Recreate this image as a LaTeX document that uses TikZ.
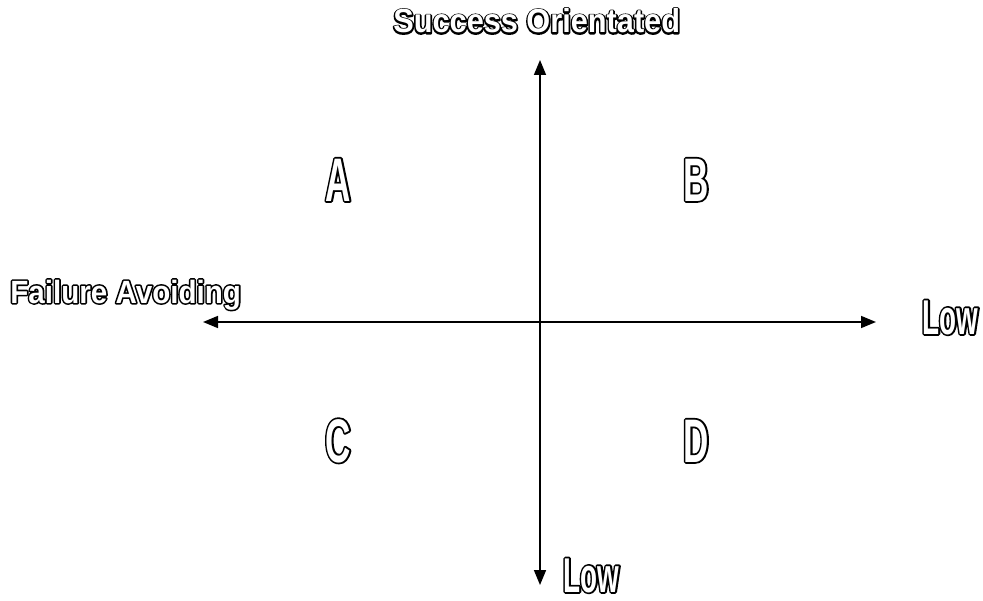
\documentclass[tikz,border=0pt]{standalone}
\usepackage{fontspec}
\usepackage{tikz}
\usetikzlibrary{arrows.meta, calc, positioning}
\newfontfamily\lblfont[FakeStretch=0.92]{Liberation Sans}
\newfontfamily\tagfont[FakeStretch=0.57]{Liberation Sans}
% hollow letters: thick black stroke under, white fill on top
\newcommand{\hollow}[2][1.8]{\rlap{\special{pdf:literal direct 1 Tr #1 w 1 j 0 G}#2\special{pdf:literal direct 0 Tr}}\textcolor{white}{#2}}

\begin{document}
\begin{tikzpicture}[x=0.02cm, y=-0.02cm,
				ax/.style={-{Triangle[length=0.3cm, width=0.24cm]}, black, line width=0.9pt},
				lbl/.style={anchor=base west, inner sep=0pt, font=\lblfont\bfseries},
				tag/.style={anchor=base west, inner sep=0pt, font=\tagfont\bfseries}]
				
				\useasboundingbox (0,0) rectangle (983,601);
				
				%--- axes ---
				\coordinate (o) at (540,322);
				\coordinate (lft) at (203,322);
				\coordinate (rgt) at (876,322);
				\coordinate (top) at (540,60);
				\coordinate (bot) at (540,585);
				\draw[ax](o)--(lft);
				\draw[ax](o)--(rgt);
				\draw[ax](o)--(top);
				\draw[ax](o)--(bot);
				
				%--- axis labels ---
				\node[lbl, font=\lblfont\bfseries\fontsize{19}{19}\selectfont] (succ) at (393,33) {\hollow{Success Orientated}};
				\node[lbl, font=\lblfont\bfseries\fontsize{18.3}{18}\selectfont] (fail) at (10,303) {\hollow{Failure Avoiding}};
				\node[tag, font=\tagfont\bfseries\fontsize{27.8}{28}\selectfont] (lowr) at (922,334) {\hollow[2]{Low}};
				\node[tag, font=\tagfont\bfseries\fontsize{27.8}{28}\selectfont] (lowb) at (563,592) {\hollow[2]{Low}};
				
				%--- quadrants ---
				\node[tag, font=\tagfont\bfseries\fontsize{35}{35}\selectfont] (qa) at (325,201) {\hollow[2]{A}};
				\node[tag, font=\tagfont\bfseries\fontsize{35}{35}\selectfont] (qb) at (683,201) {\hollow[2]{B}};
				\node[tag, font=\tagfont\bfseries\fontsize{35}{35}\selectfont] (qc) at (325,462) {\hollow[2]{C}};
				\node[tag, font=\tagfont\bfseries\fontsize{35}{35}\selectfont] (qd) at (683,462) {\hollow[2]{D}};
			\end{tikzpicture}
\end{document}
